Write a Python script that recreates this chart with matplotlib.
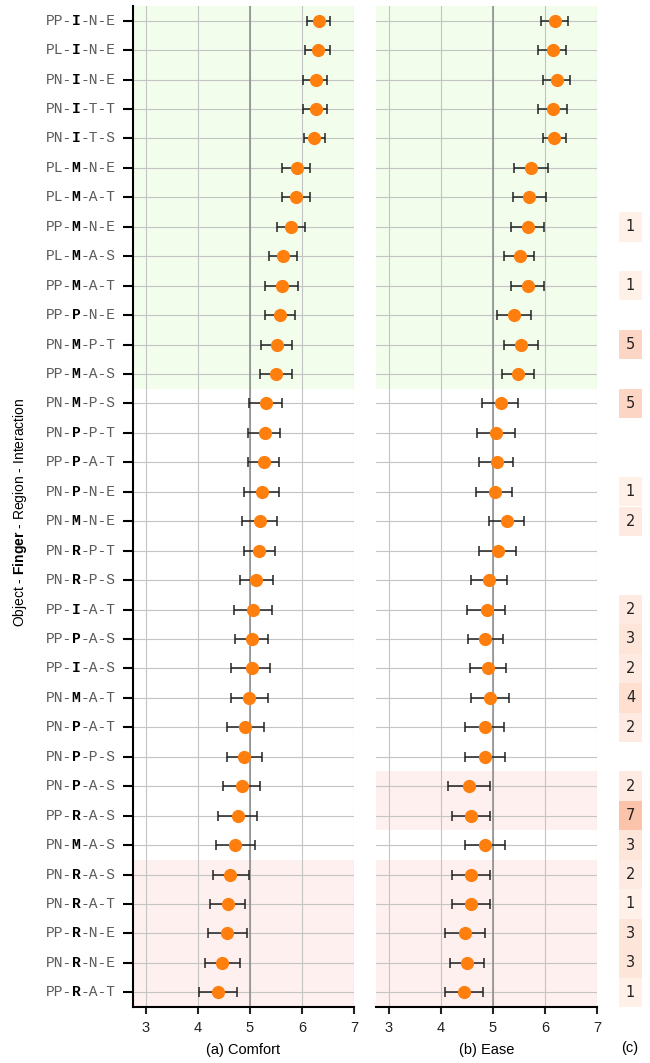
import matplotlib
matplotlib.use("Agg")
import matplotlib.pyplot as plt

plt.rcParams["font.family"] = ["Liberation Sans", "DejaVu Sans"]
plt.rcParams["mathtext.fontset"] = "custom"
plt.rcParams["mathtext.bf"] = "Liberation Sans:bold"
plt.rcParams["mathtext.rm"] = "Liberation Sans"

# rows, top to bottom: (object, finger, region, interaction)
OBJECTS = ["PP", "PL", "PN", "PN", "PN", "PL", "PL", "PP", "PL", "PP", "PP", "PN", "PP",
           "PN", "PN", "PP", "PN", "PN", "PN", "PN", "PP", "PP", "PP", "PN", "PN", "PN",
           "PN", "PP", "PN", "PN", "PN", "PP", "PN", "PP"]
FINGERS = ["I", "I", "I", "I", "I", "M", "M", "M", "M", "M", "P", "M", "M",
           "M", "P", "P", "P", "M", "R", "R", "I", "P", "I", "M", "P", "P",
           "P", "R", "M", "R", "R", "R", "R", "R"]
REGIONS = ["N", "N", "N", "T", "T", "N", "A", "N", "A", "A", "N", "P", "A",
           "P", "P", "A", "N", "N", "P", "P", "A", "A", "A", "A", "A", "P",
           "A", "A", "A", "A", "A", "N", "N", "A"]
INTERACTIONS = ["E", "E", "E", "T", "S", "E", "T", "E", "S", "T", "E", "T", "S",
                "S", "T", "T", "E", "E", "T", "S", "T", "S", "S", "T", "T", "S",
                "S", "S", "S", "S", "T", "E", "E", "T"]

# (a) comfort: mean, lower and upper CI bounds
comfort_mean = [6.33, 6.31, 6.26, 6.26, 6.24, 5.90, 5.89, 5.79, 5.63, 5.61, 5.58, 5.52, 5.50,
                5.31, 5.28, 5.26, 5.23, 5.19, 5.17, 5.12, 5.06, 5.03, 5.03, 4.99, 4.90, 4.89,
                4.85, 4.77, 4.72, 4.62, 4.58, 4.56, 4.47, 4.38]
comfort_lo = [6.10, 6.06, 6.02, 6.02, 6.04, 5.62, 5.62, 5.51, 5.36, 5.29, 5.28, 5.22, 5.20,
              4.99, 4.97, 4.97, 4.89, 4.85, 4.88, 4.81, 4.69, 4.71, 4.63, 4.64, 4.55, 4.55,
              4.48, 4.39, 4.34, 4.28, 4.23, 4.19, 4.13, 4.02]
comfort_hi = [6.54, 6.53, 6.49, 6.49, 6.45, 6.16, 6.15, 6.06, 5.90, 5.93, 5.87, 5.80, 5.80,
              5.62, 5.58, 5.55, 5.56, 5.51, 5.48, 5.44, 5.42, 5.35, 5.38, 5.34, 5.27, 5.24,
              5.19, 5.13, 5.10, 4.98, 4.90, 4.95, 4.81, 4.75]

# (b) ease
ease_mean = [6.19, 6.15, 6.23, 6.15, 6.18, 5.73, 5.70, 5.68, 5.51, 5.67, 5.40, 5.54, 5.49,
             5.15, 5.06, 5.08, 5.03, 5.26, 5.10, 4.93, 4.88, 4.85, 4.90, 4.94, 4.85, 4.85,
             4.54, 4.58, 4.85, 4.58, 4.58, 4.46, 4.50, 4.44]
ease_lo = [5.92, 5.87, 5.97, 5.87, 5.96, 5.40, 5.38, 5.35, 5.21, 5.34, 5.07, 5.21, 5.18,
           4.79, 4.69, 4.73, 4.68, 4.92, 4.73, 4.58, 4.50, 4.52, 4.55, 4.57, 4.46, 4.47,
           4.14, 4.21, 4.47, 4.21, 4.21, 4.07, 4.17, 4.07]
ease_hi = [6.44, 6.40, 6.48, 6.42, 6.40, 6.05, 6.01, 5.98, 5.78, 5.99, 5.74, 5.87, 5.79,
           5.49, 5.42, 5.38, 5.37, 5.60, 5.44, 5.26, 5.24, 5.20, 5.25, 5.30, 5.22, 5.23,
           4.94, 4.94, 5.23, 4.94, 4.94, 4.85, 4.83, 4.81]

# (c) counts (0 = empty)
counts = [0, 0, 0, 0, 0, 0, 0, 1, 0, 1, 0, 5, 0,
          5, 0, 0, 1, 2, 0, 0, 2, 3, 2, 4, 2, 0,
          2, 7, 3, 2, 1, 3, 3, 1]

# highlighted row ranges (first, last)
green_rows = [(0, 12)]
red_rows_comfort = [(29, 33)]
red_rows_ease = [(26, 27), (29, 33)]

GREEN = "#f2fdec"
RED = "#fef0ee"
ORANGE = "#ff7f0e"

n = len(OBJECTS)
rows = list(range(n))

fig = plt.figure(figsize=(6.5, 10.63), dpi=100)
ax_a = fig.add_axes([133 / 650, 56 / 1063, 221 / 650, 1001 / 1063])
ax_b = fig.add_axes([376 / 650, 56 / 1063, 221 / 650, 1001 / 1063])
ax_c = fig.add_axes([619 / 650, 56 / 1063, 23 / 650, 1001 / 1063])


def draw_panel(ax, mean, lo, hi, red_rows, xlabel, show_left):
    for a, b in green_rows:
        ax.axhspan(a - 0.5, b + 0.5, color=GREEN, zorder=0, lw=0)
    for a, b in red_rows:
        ax.axhspan(a - 0.5, b + 0.5, color=RED, zorder=0, lw=0)
    ax.set_axisbelow(True)
    ax.grid(True, color="#c4c4c4", lw=0.8)
    ax.axvline(5, color="#8a8a8a", lw=1.1, zorder=1)
    err = [[m - l for m, l in zip(mean, lo)], [h - m for m, h in zip(mean, hi)]]
    ax.errorbar(mean, rows, xerr=err, fmt="none", ecolor="#222222",
                elinewidth=1.1, capsize=3.6, capthick=1.1, zorder=2)
    ax.plot(mean, rows, "o", color=ORANGE, ms=9.5, mew=0, zorder=3)
    ax.set_xlim(2.75, 7)
    ax.set_ylim(n - 0.5, -0.5)
    ax.set_xticks([3, 4, 5, 6, 7])
    ax.set_yticks(rows)
    ax.set_yticklabels([])
    for s in ["top", "right"]:
        ax.spines[s].set_visible(False)
    ax.spines["bottom"].set_linewidth(1.5)
    ax.tick_params(axis="x", length=5, width=1.5, labelsize=10.5, colors="#222222", pad=5)
    ax.set_xlabel(xlabel, fontsize=10.5, labelpad=6)
    if show_left:
        ax.spines["left"].set_linewidth(1.5)
        ax.tick_params(axis="y", length=7, width=1.5)
    else:
        ax.spines["left"].set_visible(False)
        ax.tick_params(axis="y", length=0)


draw_panel(ax_a, comfort_mean, comfort_lo, comfort_hi, red_rows_comfort, "(a) Comfort", True)
draw_panel(ax_b, ease_mean, ease_lo, ease_hi, red_rows_ease, "(b) Ease", False)

# tick labels: monospace, finger letter in bold
fs = 10.5
cw = 0.6 * fs
x0 = -63
mono = dict(xycoords=("axes fraction", "data"), textcoords="offset points",
            ha="left", va="center", family="Liberation Mono", fontsize=fs)
for i in rows:
    ax_a.annotate(OBJECTS[i] + "-", xy=(0, i), xytext=(x0, 0), color="#5a5a5a", **mono)
    ax_a.annotate(FINGERS[i], xy=(0, i), xytext=(x0 + 3 * cw, 0), color="black",
                  fontweight="bold", **mono)
    ax_a.annotate("-" + REGIONS[i] + "-" + INTERACTIONS[i], xy=(0, i),
                  xytext=(x0 + 4 * cw, 0), color="#5a5a5a", **mono)

# (c) count boxes
cmap = plt.cm.Reds
for i, c in enumerate(counts):
    if c == 0:
        continue
    ax_c.barh(i, 1, left=0, height=1, color=cmap(c / 31), lw=0)
    ax_c.text(0.5, i, str(c), ha="center", va="center", fontsize=10.5, color="#222222",
              family="DejaVu Sans")
ax_c.set_xlim(0, 1)
ax_c.set_ylim(n - 0.5, -0.5)
ax_c.axis("off")
fig.text(630 / 650, 1 - 1048 / 1063, "(c)", ha="center", va="center", fontsize=10.5)

fig.text(20 / 650, 1 - 512 / 1063, r"Object - $\mathbf{Finger}$ - Region - Interaction",
         rotation=90, ha="center", va="center", fontsize=10)

fig.savefig("out.png", dpi=100)
